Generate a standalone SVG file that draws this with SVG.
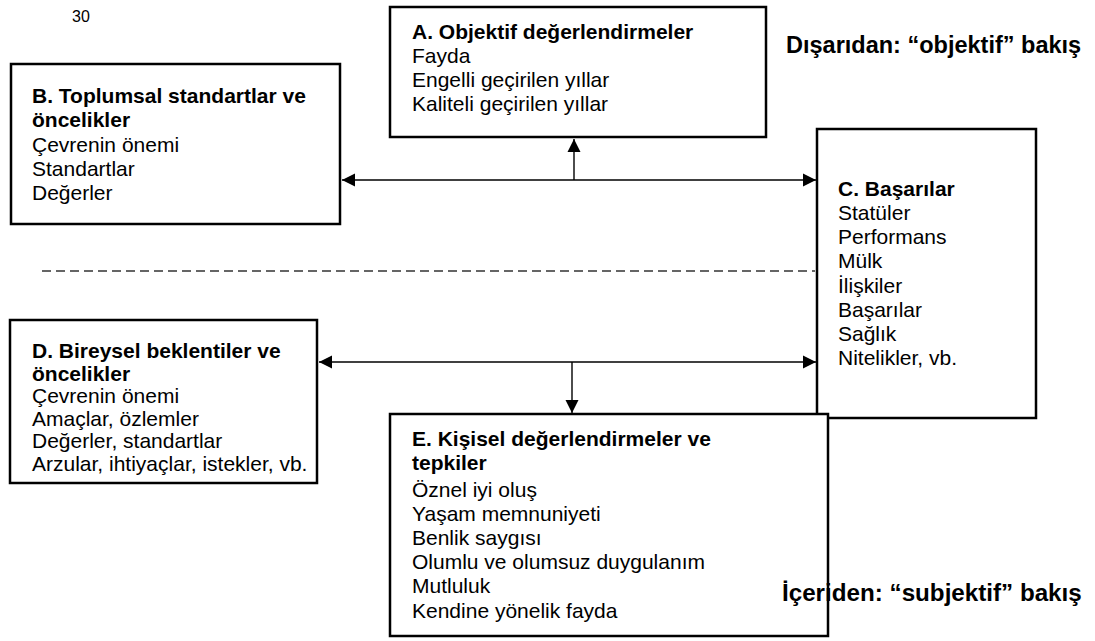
<svg xmlns="http://www.w3.org/2000/svg" width="1095" height="641" viewBox="0 0 1095 641">
<style>
  .box { fill: #ffffff; stroke: #000000; stroke-width: 2.5; }
  text { font-family: "Liberation Sans", Arial, sans-serif; font-size: 21px; fill: #000000; }
  .h { font-weight: bold; }
  .lbl { font-weight: bold; font-size: 23.5px; }
  .lbl2 { font-weight: bold; font-size: 24.2px; }
  .pg { font-size: 16px; }
  .conn { stroke: #000000; stroke-width: 1.4; fill: none; }
  .dash { stroke: #333333; stroke-width: 1.3; stroke-dasharray: 9 5; fill: none; }
</style>
<defs>
  <marker id="arr" viewBox="0 0 10 10" refX="10" refY="5" markerWidth="9.5" markerHeight="9.5" markerUnits="strokeWidth" orient="auto-start-reverse">
    <path d="M0,0 L10,5 L0,10 Z" fill="#000000"/>
  </marker>
</defs>
<rect width="1095" height="641" fill="#ffffff"/>
<text class="pg" x="72" y="22">30</text>

<g id="connectors">
  <line class="conn" x1="342" y1="180" x2="816" y2="180" marker-start="url(#arr)" marker-end="url(#arr)"/>
  <line class="conn" x1="574" y1="180" x2="574" y2="139" marker-end="url(#arr)"/>
  <line class="conn" x1="319" y1="362" x2="816" y2="362" marker-start="url(#arr)" marker-end="url(#arr)"/>
  <line class="conn" x1="572" y1="362" x2="572" y2="413" marker-end="url(#arr)"/>
  <line class="dash" x1="42" y1="271" x2="815" y2="271"/>
</g>

<g id="nodeA">
  <rect class="box" x="390" y="7" width="376" height="130"/>
  <text class="h" x="412" y="39">A. Objektif değerlendirmeler</text>
  <text x="412" y="63">Fayda</text>
  <text x="412" y="87">Engelli geçirilen yıllar</text>
  <text x="412" y="111">Kaliteli geçirilen yıllar</text>
</g>

<g id="nodeB">
  <rect class="box" x="11" y="64" width="329" height="160"/>
  <text class="h" x="32" y="103">B. Toplumsal standartlar ve</text>
  <text class="h" x="32" y="127">öncelikler</text>
  <text x="32" y="152">Çevrenin önemi</text>
  <text x="32" y="176">Standartlar</text>
  <text x="32" y="200">Değerler</text>
</g>

<g id="nodeC">
  <rect class="box" x="817" y="129" width="219" height="289"/>
  <text class="h" x="838" y="196">C. Başarılar</text>
  <text x="838" y="220">Statüler</text>
  <text x="838" y="244">Performans</text>
  <text x="838" y="268">Mülk</text>
  <text x="838" y="293">İlişkiler</text>
  <text x="838" y="317">Başarılar</text>
  <text x="838" y="341">Sağlık</text>
  <text x="838" y="365">Nitelikler, vb.</text>
</g>

<g id="nodeD">
  <rect class="box" x="10" y="320" width="307" height="163"/>
  <text class="h" x="32" y="358">D. Bireysel beklentiler ve</text>
  <text class="h" x="32" y="380.5">öncelikler</text>
  <text x="32" y="403">Çevrenin önemi</text>
  <text x="32" y="425.5">Amaçlar, özlemler</text>
  <text x="32" y="448">Değerler, standartlar</text>
  <text x="32" y="470.5">Arzular, ihtiyaçlar, istekler, vb.</text>
</g>

<g id="nodeE">
  <rect class="box" x="390" y="414" width="438" height="222"/>
  <text class="h" x="412" y="446">E. Kişisel değerlendirmeler ve</text>
  <text class="h" x="412" y="470">tepkiler</text>
  <text x="412" y="497">Öznel iyi oluş</text>
  <text x="412" y="521">Yaşam memnuniyeti</text>
  <text x="412" y="545">Benlik saygısı</text>
  <text x="412" y="569">Olumlu ve olumsuz duygulanım</text>
  <text x="412" y="593">Mutluluk</text>
  <text x="412" y="618">Kendine yönelik fayda</text>
</g>

<g id="labels">
  <text class="lbl" x="786" y="53">Dışarıdan: “objektif” bakış</text>
  <text class="lbl2" x="782" y="601">İçeriden: “subjektif” bakış</text>
</g>
</svg>
